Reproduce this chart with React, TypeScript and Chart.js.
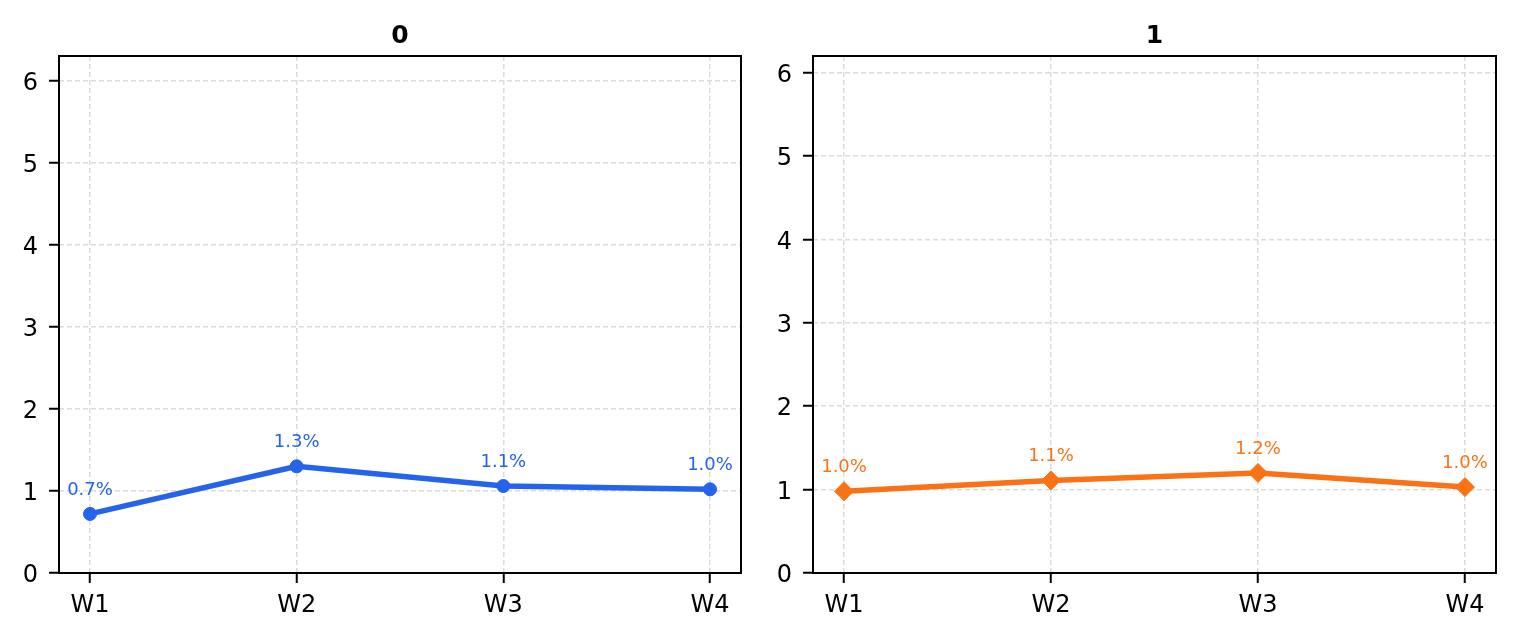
import { useEffect, useRef } from "react";
import { Chart, registerables } from "chart.js";

Chart.register(...registerables);

const weeks = ["W1", "W2", "W3", "W4"];
const panelTitles = ["0", "1"];
const series0 = [0.72, 1.3, 1.06, 1.02];
const series1 = [0.98, 1.11, 1.2, 1.03];
const yTicks = [0, 1, 2, 3, 4, 5, 6];
const yMaxes = [6.3, 6.2];

const FONT = "'DejaVu Sans', sans-serif";

const framePlugin = {
    id: "frame",
    afterDatasetsDraw(chart: any) {
        const { ctx, chartArea: a } = chart;
        ctx.save();
        ctx.strokeStyle = "#000";
        ctx.lineWidth = 2;
        ctx.strokeRect(a.left, a.top, a.right - a.left, a.bottom - a.top);
        ctx.restore();
    },
};

const titlePlugin = {
    id: "panelTitle",
    afterDraw(chart: any, _args: any, opts: any) {
        const { ctx, chartArea: a } = chart;
        ctx.save();
        ctx.font = `bold 25px ${FONT}`;
        ctx.fillStyle = "#000";
        ctx.textAlign = "center";
        ctx.textBaseline = "alphabetic";
        ctx.fillText(opts.text, (a.left + a.right) / 2, 43);
        ctx.restore();
    },
};

const valueLabelPlugin = {
    id: "valueLabels",
    afterDatasetsDraw(chart: any) {
        const { ctx } = chart;
        chart.data.datasets.forEach((ds: any, i: number) => {
            const meta = chart.getDatasetMeta(i);
            ctx.save();
            ctx.font = `18px ${FONT}`;
            ctx.fillStyle = ds.borderColor;
            ctx.textAlign = "center";
            ctx.textBaseline = "alphabetic";
            meta.data.forEach((pt: any, j: number) => {
                ctx.fillText(`${ds.data[j].y.toFixed(1)}%`, pt.x, pt.y - 19);
            });
            ctx.restore();
        });
    },
};

type PanelProps = {
    title: string;
    values: number[];
    color: string;
    pointStyle: string;
    radius: number;
    yMax: number;
    left: number;
    width: number;
    axisWidth: number;
    padRight: number;
};

function Panel({ title, values, color, pointStyle, radius, yMax, left, width, axisWidth, padRight }: PanelProps) {
    const canvasRef = useRef<HTMLCanvasElement | null>(null);

    useEffect(() => {
        if (!canvasRef.current) {
            return;
        }

        const chart = new Chart(canvasRef.current, {
            type: "line",
            data: {
                datasets: [
                    {
                        label: title,
                        data: values.map((v, i) => ({ x: i, y: v })),
                        borderColor: color,
                        backgroundColor: color,
                        borderWidth: 5.5,
                        pointStyle: pointStyle as any,
                        pointRadius: radius,
                        pointBorderWidth: 1,
                        pointBackgroundColor: color,
                        pointBorderColor: color,
                        tension: 0,
                    },
                ],
            },
            options: {
                responsive: true,
                maintainAspectRatio: false,
                animation: false,
                layout: { padding: { left: 0, right: padRight, top: 56, bottom: 0 } },
                plugins: {
                    legend: { display: false },
                    tooltip: { enabled: false },
                    panelTitle: { text: title },
                } as any,
                scales: {
                    x: {
                        type: "linear",
                        min: -0.15,
                        max: weeks.length - 1 + 0.15,
                        afterBuildTicks: (s: any) => {
                            s.ticks = weeks.map((_, i) => ({ value: i }));
                        },
                        afterFit: (s: any) => {
                            s.height = 67;
                        },
                        ticks: {
                            callback: (v: any) => weeks[v as number],
                            color: "#000",
                            font: { family: FONT, size: 24 },
                            padding: 8,
                            maxRotation: 0,
                        },
                        grid: {
                            color: "#dcdcdc",
                            lineWidth: 1.5,
                            tickLength: 10,
                            tickColor: "#000",
                            tickWidth: 2,
                        },
                        border: { display: false, dash: [5, 3] },
                    },
                    y: {
                        type: "linear",
                        min: 0,
                        max: yMax,
                        afterBuildTicks: (s: any) => {
                            s.ticks = yTicks.map((v) => ({ value: v }));
                        },
                        afterFit: (s: any) => {
                            s.width = axisWidth;
                        },
                        ticks: {
                            color: "#000",
                            font: { family: FONT, size: 24 },
                            padding: 11,
                            labelOffset: 3,
                        },
                        grid: {
                            color: "#dcdcdc",
                            lineWidth: 1.5,
                            tickLength: 10,
                            tickColor: "#000",
                            tickWidth: 2,
                        },
                        border: { display: false, dash: [5, 3] },
                    },
                },
            },
            plugins: [framePlugin, titlePlugin, valueLabelPlugin],
        });

        return () => chart.destroy();
    }, [title, values, color, pointStyle, radius, yMax, axisWidth, padRight]);

    return (
        <div style={{ position: "absolute", left, top: 0, width, height: 640 }}>
            <canvas ref={canvasRef} />
        </div>
    );
}

export default function App() {
    return (
        <div style={{ position: "absolute", left: 0, top: 0, width: 1517, height: 640, background: "#fff" }}>
            <Panel
                title={panelTitles[0]}
                values={series0}
                color="#2563eb"
                pointStyle="circle"
                radius={6.5}
                yMax={yMaxes[0]}
                left={0}
                width={770}
                axisWidth={59}
                padRight={29}
            />
            <Panel
                title={panelTitles[1]}
                values={series1}
                color="#f97316"
                pointStyle="rectRot"
                radius={9.5}
                yMax={yMaxes[1]}
                left={770}
                width={747}
                axisWidth={43}
                padRight={21}
            />
        </div>
    );
}
